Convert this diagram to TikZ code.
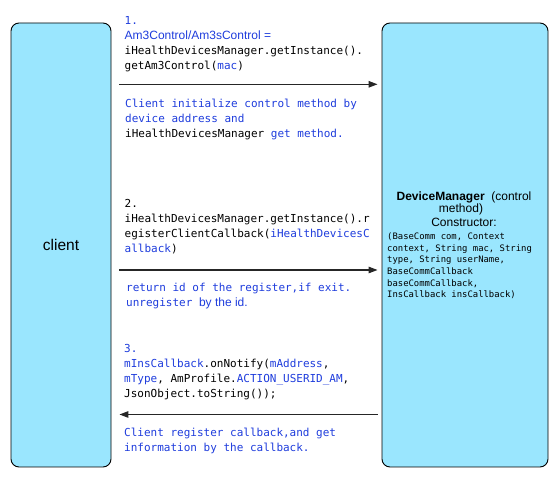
\documentclass[tikz,border=0pt]{standalone}
\usepackage{fontspec}
\setmainfont{Liberation Sans}
\setsansfont{Liberation Sans}
\setmonofont{DejaVu Sans Mono}
\usetikzlibrary{arrows.meta}
\definecolor{cb}{RGB}{30,60,220}
\definecolor{boxfill}{RGB}{154,230,254}
\tikzset{
  lane/.style={draw=black, line width=0.9pt, fill=boxfill, rounded corners=8pt, minimum height=444pt},
  arr/.style={line width=1.2pt, draw=black!85, -{Triangle[length=9pt,width=6.5pt]}},
  code/.style={anchor=base west, inner sep=0pt, align=left, font=\ttfamily\fontsize{11}{15.2}\selectfont},
  smallcode/.style={anchor=base west, inner sep=0pt, align=left, font=\ttfamily\fontsize{8.9}{11.7}\selectfont},
  head/.style={inner sep=0pt, align=center, font=\sffamily\fontsize{12}{13}\selectfont}
}
\newcommand{\sfb}[1]{{\sffamily\fontsize{12}{15.2}\selectfont #1}}
\begin{document}
\begin{tikzpicture}[x=1pt,y=-1pt]
\useasboundingbox (0,0) rectangle (558,478);
\node[lane, minimum width=100pt] (client) at (61,245) {};
\node[lane, minimum width=166pt] (dev) at (465,245) {};
\node[font=\sffamily\fontsize{15.5}{17}\selectfont, inner sep=0pt] (clientlbl) at (client.center) {client};
% device text
\node[head, anchor=base] (dh1) at (464,201) {\textbf{DeviceManager}\ \ (control};
\node[head, anchor=base] (dh2) at (461,213) {method)};
\node[head, anchor=base] (dh3) at (464,227) {Constructor:};
\node[smallcode] (dcode) at (387,298) {(BaseComm com, Context\\context, String mac, String\\type, String userName,\\BaseCommCallback\\baseCommCallback,\\InsCallback insCallback)};
% arrows
\coordinate (a1) at (0,84.3);
\coordinate (a2) at (0,270);
\coordinate (a3) at (0,414.5);
\draw[arr, shorten <=8pt, shorten >=4pt] (client.east |- a1) -- (dev.west |- a1);
\draw[arr, shorten <=8pt, shorten >=4pt] (client.east |- a2) -- (dev.west |- a2);
\draw[arr, shorten <=4pt, shorten >=8pt] (dev.west |- a3) -- (client.east |- a3);
% block 1
\node[code] (c1) at (124.5,70) {\textcolor{cb}{1.}\\
\sfb{\color{cb}Am3Control/Am3sControl =}\\
iHealthDevicesManager.getInstance().\\
getAm3Control(\textcolor{cb}{mac})};
\node[code, text=cb] (d1) at (125,138) {Client initialize control method by\\
device address and\\
\textcolor{black}{iHealthDevicesManager} get method.};
% block 2
\node[code] (c2) at (124.5,253) {2.\\
iHealthDevicesManager.getInstance().r\\
egisterClientCallback(\textcolor{cb}{iHealthDevicesC}\\
\textcolor{cb}{allback})};
\node[code, text=cb] (d2) at (126,307) {return id of the register,if exit.\\
unregister \sfb{by the id.}};
% block 3
\node[code] (c3) at (124,398) {\textcolor{cb}{3.}\\
\textcolor{cb}{mInsCallback}.onNotify(\textcolor{cb}{mAddress},\\
\textcolor{cb}{mType}, AmProfile.\textcolor{cb}{ACTION\_USERID\_AM},\\
JsonObject.toString());};
\node[code, text=cb] (d3) at (124,452) {Client register callback,and get\\
information by the callback.};
\end{tikzpicture}
\end{document}
